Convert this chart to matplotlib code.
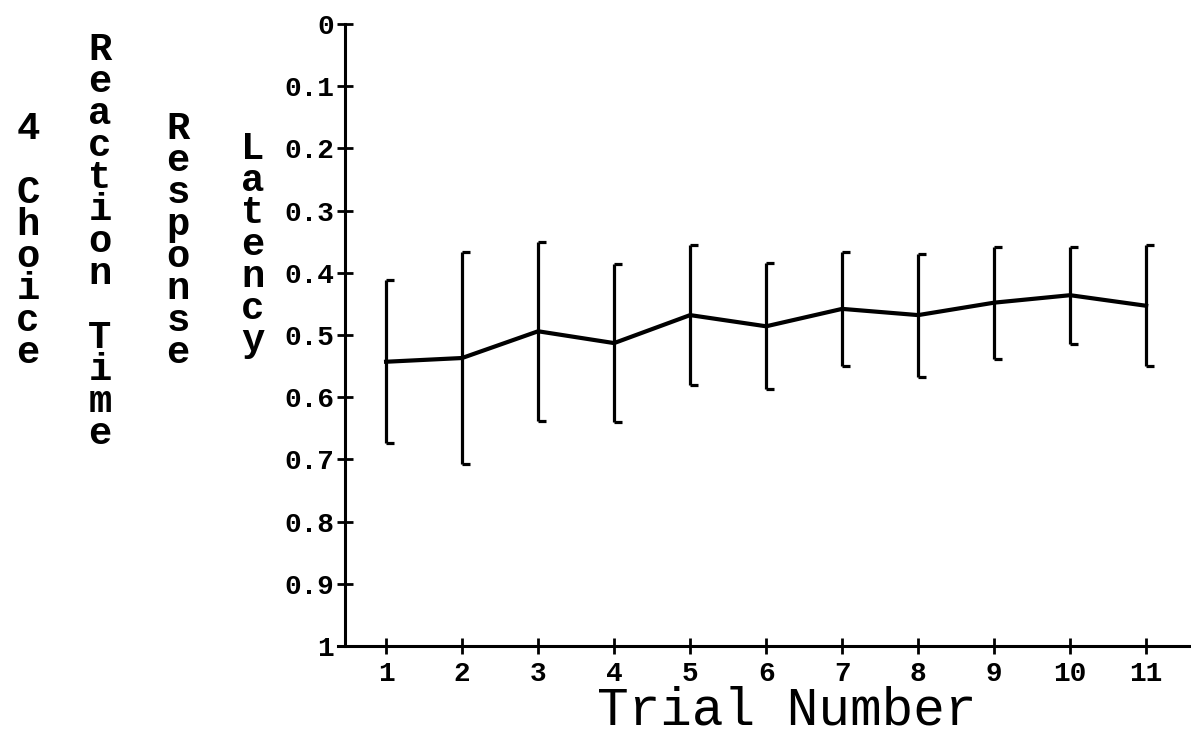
import matplotlib
matplotlib.use("Agg")
import matplotlib.pyplot as plt
from matplotlib.path import Path
import numpy as np

# mean latency per trial and half-width of the error bar
trials = [1, 2, 3, 4, 5, 6, 7, 8, 9, 10, 11]
latency = [0.543, 0.537, 0.494, 0.513, 0.468, 0.486, 0.458, 0.468, 0.448, 0.436, 0.453]
err = [0.131, 0.170, 0.144, 0.127, 0.113, 0.101, 0.092, 0.099, 0.090, 0.078, 0.097]

yticks = [0, 0.1, 0.2, 0.3, 0.4, 0.5, 0.6, 0.7, 0.8, 0.9, 1]
ytick_labels = ["0", "0.1", "0.2", "0.3", "0.4", "0.5", "0.6", "0.7", "0.8", "0.9", "1"]

ylabel_cols = ["4 Choice", "Reaction Time", "Response", "Latency"]
xlabel = "Trial Number"

mono = "Liberation Mono"

fig = plt.figure(figsize=(11.91, 7.37), dpi=100)
ax = fig.add_axes([0.2897, 0.1235, 0.7103, 0.8439])

t = np.array(trials)
m = np.array(latency)
e = np.array(err)

ax.plot(t, m, color="black", lw=3.0, solid_joinstyle="round")
ax.vlines(t, m - e, m + e, color="black", lw=2.3)
# half caps, pointing right like the original
halfcap = Path([(0, 0), (1, 0)], [Path.MOVETO, Path.LINETO])
ax.plot(t, m - e, ls="none", marker=halfcap, ms=12, mew=2.3, color="black")
ax.plot(t, m + e, ls="none", marker=halfcap, ms=12, mew=2.3, color="black")

ax.set_xlim(0.46, 11.59)
ax.set_ylim(1, 0)
ax.set_xticks(trials)
ax.set_yticks(yticks)
ax.set_yticklabels(ytick_labels)

for s in ["top", "right"]:
    ax.spines[s].set_visible(False)
ax.spines["left"].set_linewidth(2.2)
ax.spines["bottom"].set_linewidth(2.2)
ax.spines["bottom"].set_bounds(0.37, 11.59)

ax.tick_params(direction="inout", length=12, width=2.0, pad=2)
ax.tick_params(axis="x", pad=5)
for lab in ax.get_xticklabels() + ax.get_yticklabels():
    lab.set_fontfamily(mono)
    lab.set_fontweight("bold")
    lab.set_fontsize(20)

ax.set_xlabel(xlabel, fontfamily=mono, fontsize=38)
ax.xaxis.set_label_coords((787 - 345) / (1191 - 345), -0.126)
ax.xaxis.label.set_va("baseline")

col_x = [28, 100, 178, 253]
col_y = [241, 242, 241, 245]
for txt, cx, cy in zip(ylabel_cols, col_x, col_y):
    fig.text(cx / 1191, 1 - cy / 737, "\n".join(txt), ha="center", va="center",
             multialignment="center", fontfamily=mono, fontweight="bold",
             fontsize=28, linespacing=0.86)

fig.savefig("out.png", dpi=100)
